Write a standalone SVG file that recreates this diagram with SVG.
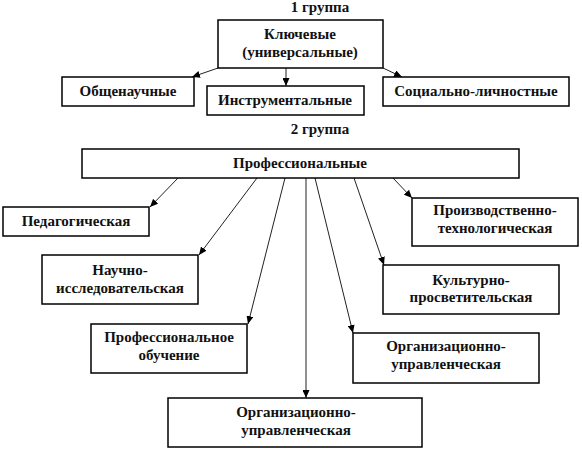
<svg xmlns="http://www.w3.org/2000/svg" width="582" height="450" viewBox="0 0 582 450">
<style>
.box{fill:#fff;stroke:#000;stroke-width:1.5}
.t text{font-family:"Liberation Serif",serif;font-weight:bold;font-size:15px;fill:#111;text-anchor:middle}
.con{stroke:#222;stroke-width:1;fill:none;marker-end:url(#arr)}
</style>
<defs>
<marker id="arr" markerUnits="userSpaceOnUse" markerWidth="9" markerHeight="7" refX="8" refY="3.5" orient="auto">
<path d="M0,0 L8,3.5 L0,7 z" fill="#000"/>
</marker>
</defs>
<rect width="582" height="450" fill="#fff"/>
<g class="t">
<text x="320" y="12">1 группа</text>
<text x="320" y="134">2 группа</text>
<g id="connectors">
<line class="con" x1="218" y1="68" x2="192" y2="77"/>
<line class="con" x1="286" y1="68" x2="286" y2="86"/>
<line class="con" x1="383" y1="68" x2="402" y2="77"/>
<line class="con" x1="178" y1="178" x2="150" y2="207"/>
<line class="con" x1="257" y1="178" x2="199" y2="255"/>
<line class="con" x1="285" y1="178" x2="248" y2="324"/>
<line class="con" x1="306" y1="178" x2="306" y2="398"/>
<line class="con" x1="315" y1="178" x2="353" y2="333"/>
<line class="con" x1="354" y1="178" x2="384" y2="265"/>
<line class="con" x1="393" y1="178" x2="412" y2="198"/>
</g>
<g id="key"><rect class="box" x="218" y="20" width="165" height="48"/><text x="300" y="39">Ключевые</text><text x="300" y="57">(универсальные)</text></g>
<g id="obshch"><rect class="box" x="62" y="77" width="132" height="29"/><text x="128" y="96">Общенаучные</text></g>
<g id="instr"><rect class="box" x="207" y="86" width="157" height="29"/><text x="285" y="105">Инструментальные</text></g>
<g id="soc"><rect class="box" x="383" y="77" width="186" height="29"/><text x="476" y="96">Социально-личностные</text></g>
<g id="prof"><rect class="box" x="82" y="149" width="437" height="29"/><text x="300" y="168">Профессиональные</text></g>
<g id="ped"><rect class="box" x="3" y="207" width="146" height="29"/><text x="76" y="226">Педагогическая</text></g>
<g id="nauch"><rect class="box" x="42" y="255" width="156" height="49"/><text x="120" y="275">Научно-</text><text x="120" y="293">исследовательская</text></g>
<g id="profob"><rect class="box" x="91" y="324" width="156" height="49"/><text x="169" y="342">Профессиональное</text><text x="169" y="360">обучение</text></g>
<g id="org1"><rect class="box" x="168" y="398" width="254" height="49"/><text x="296" y="417">Организационно-</text><text x="296" y="435">управленческая</text></g>
<g id="org2"><rect class="box" x="353" y="333" width="186" height="50"/><text x="446" y="351">Организационно-</text><text x="446" y="369">управленческая</text></g>
<g id="kult"><rect class="box" x="383" y="265" width="176" height="49"/><text x="471" y="285">Культурно-</text><text x="471" y="302">просветительская</text></g>
<g id="proizv"><rect class="box" x="412" y="198" width="166" height="48"/><text x="495" y="215">Производственно-</text><text x="495" y="233">технологическая</text></g>
</g>
</svg>
